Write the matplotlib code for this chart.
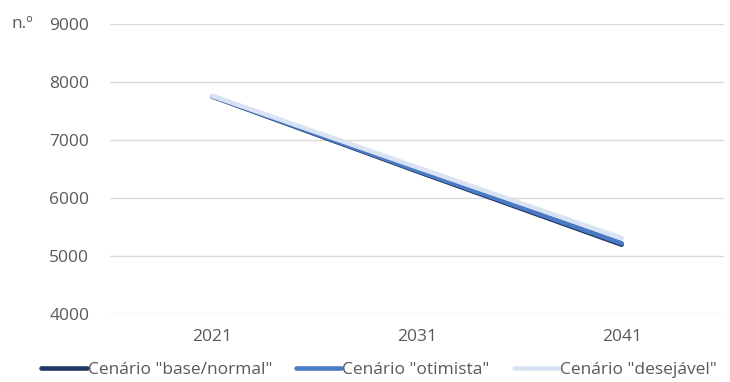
import matplotlib.pyplot as plt
import numpy as np

plt.rcParams['font.family'] = ['Open Sans', 'DejaVu Sans']

anos = ['2021', '2031', '2041']
base_normal = [7750, 6460, 5195]
otimista = [7755, 6475, 5220]
desejavel = [7760, 6530, 5310]

series = [
    ('Cenário "base/normal"', base_normal, '#203864'),
    ('Cenário "otimista"', otimista, '#4a7bc4'),
    ('Cenário "desejável"', desejavel, '#dae3f3'),
]

fig = plt.figure(figsize=(7.3, 3.82), dpi=100)
ax = fig.add_axes([110 / 730, 1 - 314 / 382, 614 / 730, 290 / 382])

x = np.arange(len(anos))

# as séries desenham-se pela ordem do Excel
handles = []
for nome, vals, cor in series:
    h, = ax.plot(x, vals, color=cor, linewidth=3.3, solid_capstyle='round', label=nome)
    handles.append(h)

ax.set_xlim(-0.5, len(anos) - 0.5)
ax.set_ylim(4000, 9000)
ax.set_yticks(np.arange(4000, 9001, 1000))
ax.set_xticks(x)
ax.set_xticklabels(anos)
ax.grid(axis='y', color='#d9d9d9', linewidth=1)
ax.set_axisbelow(True)
for s in ax.spines.values():
    s.set_visible(False)
ax.tick_params(length=0, labelsize=12.5, colors='#595959')
ax.yaxis.set_tick_params(pad=15)
ax.xaxis.set_tick_params(pad=11)

fig.text(12 / 730, 1 - 24 / 382, 'n.º', fontsize=12.5, color='#595959', va='center', ha='left')

leg = fig.legend(handles=handles, loc='center', bbox_to_anchor=(379 / 730, 1 - 370 / 382), ncol=3,
                 frameon=False, handlelength=2.6, handletextpad=0.05, columnspacing=1.4,
                 fontsize=12.5, borderpad=0, borderaxespad=0)
for t in leg.get_texts():
    t.set_color('#595959')

fig.savefig('out.png', dpi=100)
